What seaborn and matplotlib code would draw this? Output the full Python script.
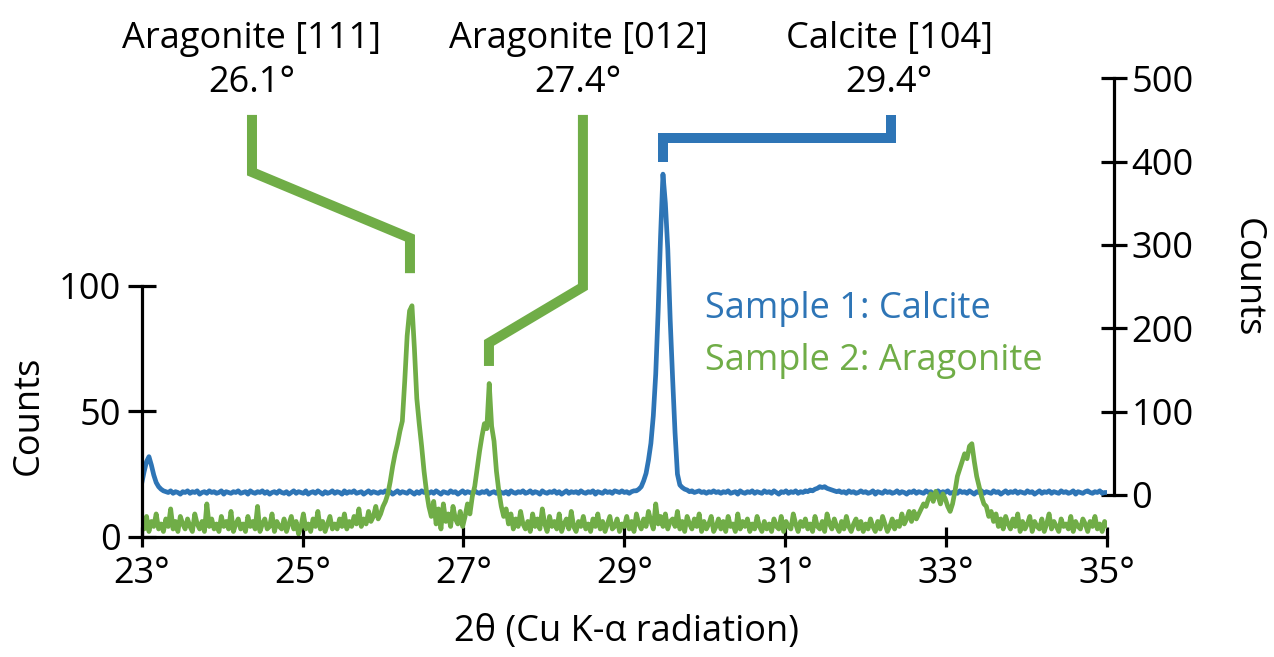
import numpy as np
import pandas as pd
import matplotlib
matplotlib.use("Agg")
import matplotlib.pyplot as plt
import seaborn as sns

# ---------------- data ----------------
TWO_THETA_START = 23.0   # scan start (deg)
TWO_THETA_STEP = 0.03    # scan step (deg)

# Sample 1: Calcite (right axis counts), one row = 20 steps (0.6 deg)
calcite_counts = [
    14, 28, 40, 46, 36, 24, 15, 10, 7, 5, 4, 3, 5, 2, 4, 3, 1, 4, 3, 5,
    2, 4, 3, 5, 1, 3, 4, 2, 5, 3, 4, 2, 3, 5, 1, 4, 3, 2, 4, 3,
    5, 2, 3, 4, 1, 5, 3, 2, 4, 3, 5, 2, 4, 1, 3, 4, 2, 5, 3, 2,
    4, 1, 3, 5, 2, 4, 3, 2, 5, 1, 3, 4, 2, 5, 3, 1, 4, 2, 3, 5,
    2, 4, 3, 1, 5, 2, 4, 3, 5, 2, 3, 4, 1, 3, 5, 2, 4, 3, 2, 4,
    3, 5, 2, 4, 1, 3, 5, 2, 4, 3, 2, 5, 3, 1, 4, 2, 5, 3, 4, 2,
    4, 2, 5, 3, 1, 4, 3, 2, 5, 3, 4, 1, 3, 5, 2, 4, 3, 2, 5, 3,
    2, 4, 3, 5, 1, 3, 4, 2, 5, 3, 2, 4, 1, 5, 3, 2, 4, 3, 5, 2,
    3, 5, 2, 4, 3, 1, 5, 3, 2, 4, 3, 5, 2, 4, 1, 3, 5, 2, 4, 3,
    4, 2, 5, 3, 2, 4, 3, 5, 1, 4, 3, 2, 5, 3, 4, 2, 5, 4, 3, 5,
    3, 4, 2, 4, 5, 5, 7, 10, 17, 26, 42, 62, 95, 145, 220, 310, 385, 350, 295, 210,
    140, 75, 25, 12, 9, 7, 6, 4, 5, 3, 4, 5, 3, 4, 2, 4, 3, 5, 3, 4,
    2, 4, 3, 5, 2, 3, 4, 1, 5, 3, 2, 4, 3, 5, 2, 4, 3, 2, 5, 3,
    4, 2, 5, 3, 1, 4, 3, 5, 2, 4, 3, 5, 2, 4, 3, 5, 4, 6, 5, 7,
    8, 10, 9, 10, 8, 7, 6, 5, 4, 5, 3, 4, 2, 5, 3, 4, 2, 3, 5, 3,
    4, 2, 3, 5, 1, 4, 3, 2, 5, 3, 4, 2, 3, 5, 2, 4, 3, 1, 4, 3,
    5, 2, 4, 3, 2, 5, 3, 4, 1, 3, 5, 2, 4, 3, 5, 2, 3, 4, 2, 5,
    3, 4, 2, 5, 3, 1, 4, 3, 5, 2, 4, 3, 2, 5, 3, 4, 1, 3, 5, 2,
    4, 3, 5, 2, 4, 3, 2, 5, 3, 4, 1, 3, 5, 2, 4, 3, 5, 2, 4, 3,
    2, 5, 3, 4, 2, 3, 5, 1, 4, 3, 2, 4, 5, 3, 2, 4, 3, 5, 2, 3,
    3,
]

# Sample 2: Aragonite (left axis counts)
aragonite_counts = [
    5, 3, 8, 2, 6, 4, 9, 3, 5, 2, 7, 4, 11, 3, 6, 2, 8, 5, 3, 7,
    4, 2, 9, 5, 3, 6, 2, 13, 4, 7, 3, 5, 2, 8, 4, 6, 3, 10, 2, 5,
    7, 3, 5, 2, 8, 4, 6, 3, 12, 2, 5, 7, 3, 4, 9, 2, 6, 4, 3, 7,
    2, 5, 8, 3, 6, 1, 4, 9, 3, 5, 2, 7, 4, 10, 3, 6, 2, 5, 8, 3,
    5, 3, 7, 4, 9, 3, 6, 4, 8, 5, 11, 4, 7, 5, 10, 6, 8, 12, 7, 9,
    12, 14, 17, 22, 28, 33, 37, 42, 46, 62, 80, 90, 92, 75, 55, 45, 36, 26, 18, 12,
    8, 14, 5, 11, 3, 13, 6, 9, 4, 12, 7, 5, 10, 4, 8, 13, 9, 16, 20, 27,
    34, 40, 45, 43, 61, 44, 38, 26, 18, 12, 8, 11, 5, 9, 3, 7, 4, 10, 5, 3,
    6, 2, 9, 4, 7, 3, 11, 5, 2, 8, 4, 6, 3, 9, 2, 5, 7, 3, 10, 4,
    2, 6, 4, 8, 3, 5, 2, 7, 4, 9, 3, 6, 2, 5, 8, 3, 4, 7, 2, 5,
    4, 8, 3, 6, 2, 9, 5, 3, 7, 4, 10, 6, 3, 13, 5, 8, 4, 9, 3, 6,
    7, 4, 10, 3, 6, 2, 8, 5, 3, 7, 4, 9, 2, 6, 3, 5, 8, 2, 4, 7,
    3, 6, 2, 8, 4, 5, 2, 9, 3, 6, 4, 7, 2, 5, 3, 8, 4, 2, 6, 3,
    5, 2, 7, 4, 3, 8, 2, 6, 4, 3, 9, 5, 2, 6, 4, 7, 3, 5, 2, 8,
    4, 3, 6, 2, 9, 5, 3, 7, 4, 2, 6, 3, 8, 4, 2, 5, 7, 3, 6, 2,
    5, 3, 7, 4, 2, 6, 3, 8, 5, 2, 4, 7, 3, 6, 4, 9, 5, 7, 10, 6,
    10, 7, 9, 11, 13, 12, 15, 17, 14, 18, 16, 13, 17, 15, 12, 10, 13, 18, 24, 27,
    30, 33, 31, 36, 37, 30, 24, 20, 16, 13, 12, 8, 10, 6, 9, 4, 7, 3, 8, 5,
    3, 7, 4, 9, 2, 6, 3, 5, 8, 2, 6, 4, 3, 7, 2, 5, 9, 3, 6, 4,
    2, 7, 4, 5, 3, 8, 2, 6, 4, 3, 7, 5, 2, 6, 4, 8, 3, 5, 2, 6,
    4,
]

x_ticks = [23, 25, 27, 29, 31, 33, 35]
x_tick_labels = ["23°", "25°", "27°", "29°", "31°", "33°", "35°"]
left_ticks = [0, 50, 100]
right_ticks = [0, 100, 200, 300, 400, 500]

series_names = ["Sample 1: Calcite", "Sample 2: Aragonite"]
peak_names = ["Aragonite [111]", "Aragonite [012]", "Calcite [104]"]
peak_angles = ["26.1°", "27.4°", "29.4°"]

BLUE = "#2E75B6"
GREEN = "#70AD47"

# ---------------- figure ----------------
sns.set_theme(style="white")
plt.rcParams["font.family"] = ["Open Sans", "DejaVu Sans"]
plt.rcParams["text.color"] = "black"
plt.rcParams["axes.labelcolor"] = "black"
plt.rcParams["xtick.color"] = "black"
plt.rcParams["ytick.color"] = "black"
FS = 26

W, H = 1274, 657
fig = plt.figure(figsize=(W / 100, H / 100), dpi=100)

# axes box in pixels
x_l, x_r = 141.7, 1107.0
y_b, y_t = 536.5, 78.3
ax = fig.add_axes([x_l / W, (H - y_b) / H, (x_r - x_l) / W, (y_b - y_t) / H])
ax2 = ax.twinx()

two_theta = TWO_THETA_START + TWO_THETA_STEP * np.arange(len(calcite_counts))
df1 = pd.DataFrame({"two_theta": two_theta, "counts": calcite_counts})
df2 = pd.DataFrame({"two_theta": two_theta, "counts": aragonite_counts})

sns.lineplot(data=df1, x="two_theta", y="counts", ax=ax2, color=BLUE,
             lw=3.4, estimator=None, sort=False)
sns.lineplot(data=df2, x="two_theta", y="counts", ax=ax, color=GREEN,
             lw=3.4, estimator=None, sort=False)

ax.set_zorder(ax2.get_zorder() + 1)
ax.patch.set_visible(False)

ax.set_xlim(23, 35)
ax.set_ylim(0, 182.7)
ax2.set_ylim(-49.8, 500)

# spines
for s in ["top", "right"]:
    ax.spines[s].set_visible(False)
for s in ["top", "left", "bottom"]:
    ax2.spines[s].set_visible(False)
for sp in [ax.spines["left"], ax.spines["bottom"], ax2.spines["right"]]:
    sp.set_color("black")
    sp.set_linewidth(2.3)
ax.spines["left"].set_bounds(0, 100)
ax2.spines["right"].set_bounds(0, 500)
ax2.spines["right"].set_position(("outward", 5))

ax.set_xticks(x_ticks)
ax.set_xticklabels(x_tick_labels)
ax.set_yticks(left_ticks)
ax2.set_yticks(right_ticks)
ax.tick_params(axis="x", direction="inout", length=14.5, width=2.3,
               color="black", labelcolor="black", labelsize=FS, pad=7, bottom=True)
ax.tick_params(axis="y", direction="inout", length=20, width=2.3,
               color="black", labelcolor="black", labelsize=FS, pad=5, left=True)
ax2.tick_params(axis="y", direction="inout", length=19, width=2.3,
                color="black", labelcolor="black", labelsize=FS, pad=3, right=True)
ax.grid(False)
ax2.grid(False)

ax.set_xlabel("2θ (Cu K-α radiation)", fontsize=FS, color="black")
ax.xaxis.set_label_coords((626 - x_l) / (x_r - x_l), -(632 - y_b) / (y_b - y_t))
ax.xaxis.label.set_va("center")
ax.set_ylabel("Counts", fontsize=FS, color="black")
ax.yaxis.set_label_coords((29 - x_l) / (x_r - x_l), (y_b - 415) / (y_b - y_t))
ax.yaxis.label.set_va("center")
ax2.set_ylabel("Counts", fontsize=FS, rotation=270, color="black")
ax2.yaxis.set_label_coords((1247 - x_l) / (x_r - x_l), (y_b - 278) / (y_b - y_t))
ax2.yaxis.label.set_va("center")

# ---------------- peak markers (left-axis data coords) ----------------
brackets = [
    ([24.371, 24.371, 26.335, 26.335], [168.1, 145.3, 119.0, 105.0], GREEN),
    ([28.485, 28.485, 27.317, 27.317], [168.1, 99.5, 77.2, 68.0], GREEN),
    ([29.480, 29.480, 32.314, 32.314], [149.3, 158.9, 158.9, 168.1], BLUE),
]
for bx, by, c in brackets:
    ax.plot(bx, by, color=c, lw=7.2, solid_joinstyle="miter",
            solid_capstyle="butt", clip_on=False, zorder=5)

label_x = [252, 578, 889]
for lx, name, ang in zip(label_x, peak_names, peak_angles):
    fig.text(lx / W, 1 - 48 / H, name, ha="center", va="baseline",
             fontsize=FS, color="black")
    fig.text(lx / W, 1 - 92 / H, ang, ha="center", va="baseline",
             fontsize=FS, color="black")

# series labels
fig.text(705 / W, 1 - 318 / H, series_names[0], color=BLUE, ha="left",
         va="baseline", fontsize=FS)
fig.text(705 / W, 1 - 370 / H, series_names[1], color=GREEN, ha="left",
         va="baseline", fontsize=FS)

fig.savefig("out.png", dpi=100)
